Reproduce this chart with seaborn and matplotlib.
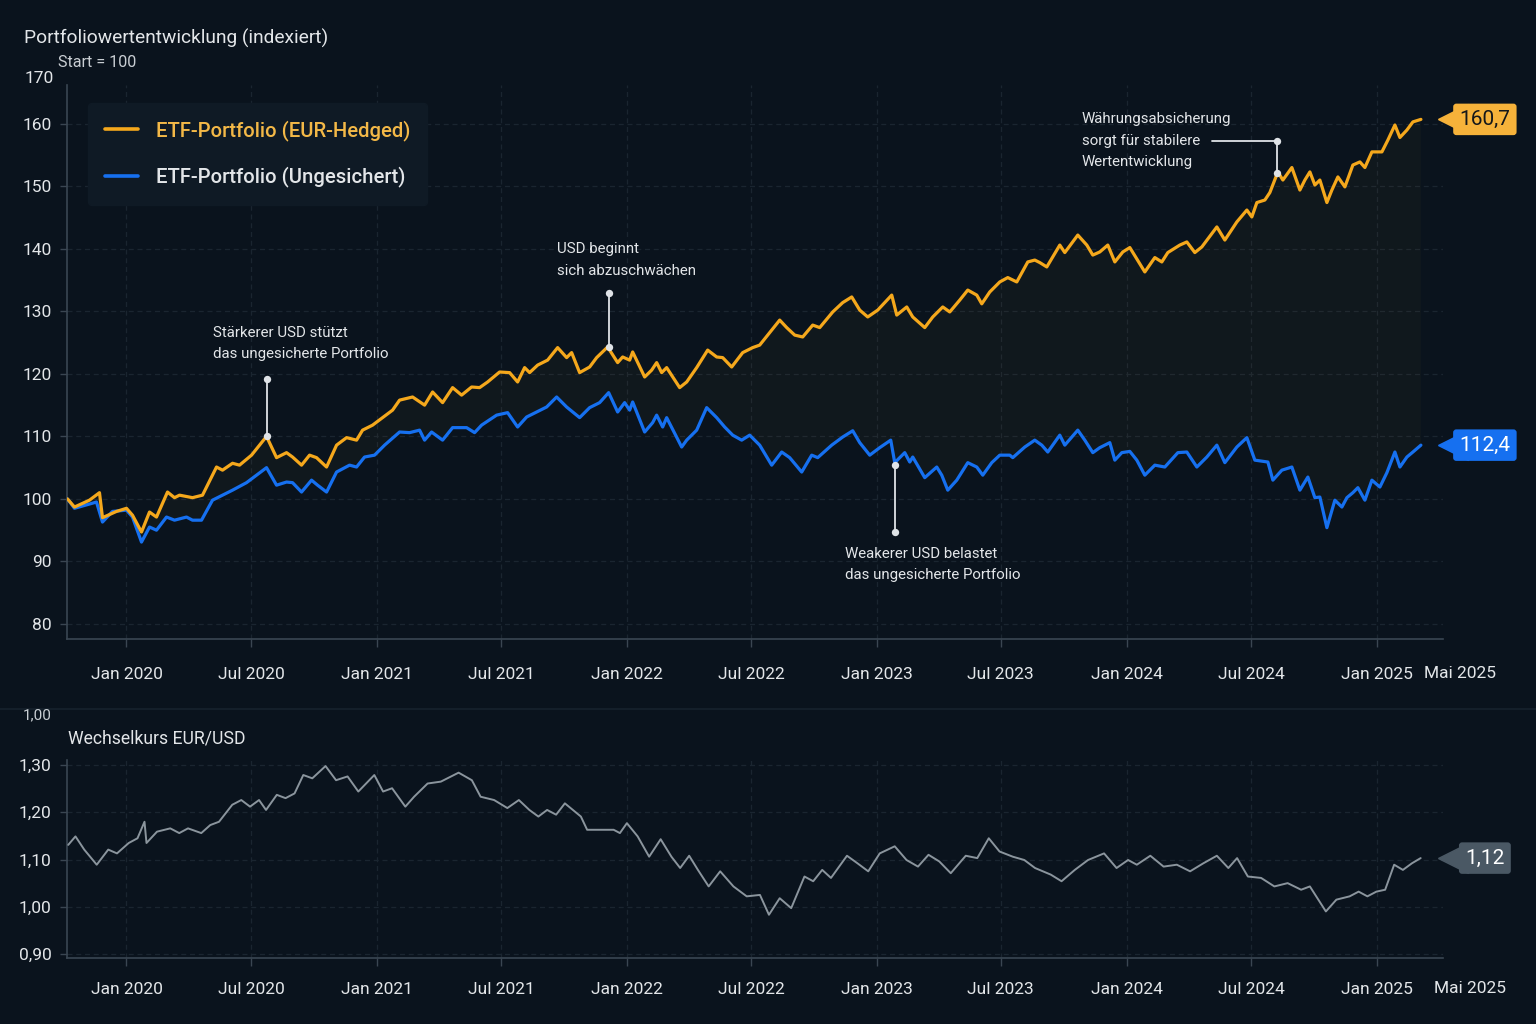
import numpy as np
import pandas as pd
import matplotlib
matplotlib.use("Agg")
import matplotlib.pyplot as plt
import matplotlib.dates as mdates
import matplotlib.transforms as mtransforms
from matplotlib.lines import Line2D
from matplotlib.ticker import FuncFormatter
import seaborn as sns

# --- data (time as decimal years) ---
series_labels = ["ETF-Portfolio (EUR-Hedged)", "ETF-Portfolio (Ungesichert)"]

hedged_years = [
    2019.764, 2019.792, 2019.852, 2019.892, 2019.904, 2019.960, 2020.000, 2020.024, 2020.060, 2020.092,
    2020.120, 2020.164, 2020.192, 2020.212, 2020.264, 2020.304, 2020.360, 2020.384, 2020.424, 2020.452,
    2020.500, 2020.560, 2020.600, 2020.640, 2020.664, 2020.700, 2020.732, 2020.760, 2020.800, 2020.840,
    2020.880, 2020.920, 2020.944, 2020.984, 2021.064, 2021.092, 2021.144, 2021.192, 2021.224, 2021.264,
    2021.304, 2021.340, 2021.380, 2021.412, 2021.444, 2021.492, 2021.532, 2021.564, 2021.592, 2021.612,
    2021.644, 2021.684, 2021.724, 2021.760, 2021.780, 2021.812, 2021.852, 2021.880, 2021.924, 2021.964,
    2021.984, 2022.012, 2022.024, 2022.072, 2022.100, 2022.120, 2022.140, 2022.160, 2022.212, 2022.240,
    2022.280, 2022.324, 2022.360, 2022.384, 2022.420, 2022.464, 2022.504, 2022.532, 2022.572, 2022.612,
    2022.640, 2022.672, 2022.704, 2022.744, 2022.772, 2022.824, 2022.864, 2022.900, 2022.932, 2022.964,
    2023.004, 2023.060, 2023.080, 2023.120, 2023.144, 2023.192, 2023.224, 2023.264, 2023.292, 2023.332,
    2023.364, 2023.400, 2023.420, 2023.452, 2023.492, 2023.524, 2023.560, 2023.604, 2023.632, 2023.652,
    2023.680, 2023.732, 2023.752, 2023.804, 2023.840, 2023.864, 2023.892, 2023.924, 2023.952, 2023.984,
    2024.012, 2024.072, 2024.112, 2024.140, 2024.164, 2024.212, 2024.240, 2024.272, 2024.300, 2024.360,
    2024.392, 2024.440, 2024.480, 2024.500, 2024.520, 2024.552, 2024.572, 2024.604, 2024.624, 2024.660,
    2024.692, 2024.712, 2024.732, 2024.752, 2024.772, 2024.800, 2024.820, 2024.844, 2024.872, 2024.904,
    2024.932, 2024.952, 2024.980, 2025.020, 2025.044, 2025.072, 2025.092, 2025.120, 2025.144, 2025.176,
]
hedged_vals = [
    100.0, 98.7, 99.8, 101.0, 97.0, 98.0, 98.5, 97.4, 94.7, 97.9,
    97.1, 101.1, 100.2, 100.6, 100.2, 100.6, 105.1, 104.6, 105.7, 105.4,
    107.0, 110.0, 106.6, 107.4, 106.7, 105.4, 107.0, 106.6, 105.1, 108.6,
    109.8, 109.4, 111.0, 111.8, 114.2, 115.8, 116.3, 115.0, 117.1, 115.4,
    117.8, 116.6, 117.9, 117.8, 118.7, 120.3, 120.2, 118.7, 121.0, 120.2,
    121.4, 122.2, 124.2, 122.6, 123.4, 120.2, 121.1, 122.6, 124.3, 121.8,
    122.7, 122.2, 123.5, 119.5, 120.6, 121.8, 120.2, 121.0, 117.8, 118.7,
    121.0, 123.8, 122.7, 122.6, 121.1, 123.4, 124.2, 124.6, 126.6, 128.6,
    127.4, 126.2, 125.9, 127.8, 127.4, 129.9, 131.4, 132.3, 130.2, 129.1,
    130.2, 132.6, 129.4, 130.7, 129.1, 127.4, 129.1, 130.7, 129.9, 131.8,
    133.4, 132.6, 131.2, 133.1, 134.7, 135.4, 134.7, 137.9, 138.2, 137.8,
    137.1, 140.6, 139.4, 142.2, 140.6, 139.0, 139.5, 140.6, 137.9, 139.5,
    140.2, 136.3, 138.6, 137.9, 139.4, 140.6, 141.1, 139.4, 140.3, 143.5,
    141.4, 144.3, 146.2, 145.1, 147.4, 147.8, 149.0, 152.3, 151.0, 153.0,
    149.4, 151.0, 152.3, 150.2, 151.0, 147.4, 149.4, 151.5, 149.9, 153.4,
    153.9, 153.0, 155.5, 155.5, 157.4, 159.8, 157.8, 159.0, 160.3, 160.7,
]

unhedged_years = [
    2019.764, 2019.792, 2019.880, 2019.904, 2019.944, 2020.000, 2020.024, 2020.060, 2020.092, 2020.120,
    2020.160, 2020.192, 2020.240, 2020.264, 2020.300, 2020.344, 2020.384, 2020.424, 2020.480, 2020.560,
    2020.600, 2020.640, 2020.664, 2020.700, 2020.740, 2020.764, 2020.800, 2020.840, 2020.892, 2020.920,
    2020.952, 2020.992, 2021.032, 2021.092, 2021.132, 2021.172, 2021.192, 2021.220, 2021.264, 2021.304,
    2021.360, 2021.392, 2021.420, 2021.480, 2021.524, 2021.564, 2021.600, 2021.640, 2021.680, 2021.720,
    2021.760, 2021.812, 2021.852, 2021.892, 2021.928, 2021.964, 2021.992, 2022.012, 2022.024, 2022.072,
    2022.104, 2022.120, 2022.144, 2022.160, 2022.220, 2022.240, 2022.280, 2022.320, 2022.360, 2022.392,
    2022.424, 2022.460, 2022.492, 2022.532, 2022.580, 2022.620, 2022.652, 2022.700, 2022.740, 2022.764,
    2022.820, 2022.864, 2022.904, 2022.932, 2022.972, 2023.012, 2023.056, 2023.072, 2023.112, 2023.132,
    2023.144, 2023.192, 2023.240, 2023.260, 2023.284, 2023.320, 2023.364, 2023.400, 2023.424, 2023.460,
    2023.492, 2023.532, 2023.544, 2023.592, 2023.632, 2023.660, 2023.684, 2023.732, 2023.752, 2023.804,
    2023.832, 2023.864, 2023.892, 2023.932, 2023.952, 2023.980, 2024.012, 2024.040, 2024.072, 2024.112,
    2024.152, 2024.204, 2024.240, 2024.280, 2024.320, 2024.360, 2024.392, 2024.440, 2024.480, 2024.512,
    2024.564, 2024.584, 2024.620, 2024.660, 2024.692, 2024.724, 2024.752, 2024.772, 2024.800, 2024.832,
    2024.860, 2024.880, 2024.904, 2024.924, 2024.952, 2024.980, 2025.012, 2025.040, 2025.072, 2025.092,
    2025.120, 2025.144, 2025.176,
]
unhedged_vals = [
    100.0, 98.5, 99.5, 96.3, 98.0, 98.2, 97.1, 93.1, 95.5, 95.0,
    97.1, 96.6, 97.1, 96.6, 96.6, 99.8, 100.6, 101.4, 102.6, 105.0,
    102.2, 102.7, 102.6, 101.1, 103.0, 102.2, 101.1, 104.3, 105.4, 105.1,
    106.7, 107.0, 108.6, 110.7, 110.6, 111.0, 109.4, 110.7, 109.4, 111.4,
    111.4, 110.6, 111.8, 113.4, 113.8, 111.5, 113.1, 113.9, 114.7, 116.3,
    114.7, 113.0, 114.6, 115.4, 117.0, 113.9, 115.4, 114.2, 115.5, 110.7,
    112.2, 113.4, 111.5, 113.0, 108.3, 109.4, 111.0, 114.6, 113.0, 111.5,
    110.2, 109.4, 110.2, 108.6, 105.4, 107.5, 106.6, 104.3, 107.0, 106.6,
    108.6, 109.9, 110.9, 109.0, 107.0, 108.2, 109.4, 105.8, 107.4, 105.9,
    106.7, 103.4, 105.1, 103.8, 101.4, 103.0, 105.8, 105.1, 103.8, 105.8,
    107.0, 107.0, 106.6, 108.3, 109.4, 108.6, 107.5, 110.2, 108.6, 111.0,
    109.4, 107.4, 108.2, 109.0, 106.2, 107.4, 107.6, 106.2, 103.8, 105.4,
    105.1, 107.4, 107.5, 105.1, 106.7, 108.6, 105.8, 108.3, 109.8, 106.2,
    105.9, 103.0, 104.6, 105.1, 101.4, 103.5, 100.2, 100.3, 95.4, 99.8,
    98.7, 100.2, 101.0, 101.8, 99.8, 103.0, 101.9, 104.2, 107.5, 105.1,
    106.7, 107.5, 108.6,
]

fx_years = [
    2019.767, 2019.796, 2019.831, 2019.881, 2019.927, 2019.962, 2020.009, 2020.044, 2020.072, 2020.080,
    2020.122, 2020.175, 2020.211, 2020.246, 2020.299, 2020.335, 2020.370, 2020.423, 2020.459, 2020.494,
    2020.530, 2020.558, 2020.601, 2020.636, 2020.672, 2020.707, 2020.743, 2020.796, 2020.838, 2020.884,
    2020.927, 2020.991, 2021.026, 2021.062, 2021.115, 2021.150, 2021.204, 2021.257, 2021.328, 2021.381,
    2021.416, 2021.470, 2021.523, 2021.569, 2021.611, 2021.647, 2021.682, 2021.718, 2021.753, 2021.817,
    2021.842, 2021.895, 2021.948, 2021.973, 2022.001, 2022.044, 2022.090, 2022.136, 2022.179, 2022.214,
    2022.250, 2022.285, 2022.328, 2022.374, 2022.427, 2022.480, 2022.533, 2022.569, 2022.612, 2022.658,
    2022.711, 2022.746, 2022.782, 2022.817, 2022.881, 2022.923, 2022.966, 2023.012, 2023.072, 2023.119,
    2023.165, 2023.207, 2023.250, 2023.296, 2023.356, 2023.402, 2023.448, 2023.491, 2023.544, 2023.590,
    2023.633, 2023.696, 2023.739, 2023.792, 2023.845, 2023.909, 2023.959, 2024.005, 2024.040, 2024.094,
    2024.147, 2024.200, 2024.253, 2024.306, 2024.360, 2024.406, 2024.441, 2024.484, 2024.537, 2024.590,
    2024.643, 2024.697, 2024.732, 2024.796, 2024.838, 2024.891, 2024.927, 2024.962, 2024.998, 2025.033,
    2025.069, 2025.104, 2025.140, 2025.175,
]
fx_vals = [
    1.131, 1.149, 1.121, 1.089, 1.121, 1.113, 1.135, 1.145, 1.180, 1.135,
    1.159, 1.166, 1.156, 1.166, 1.156, 1.173, 1.180, 1.216, 1.226, 1.212,
    1.226, 1.205, 1.237, 1.230, 1.240, 1.279, 1.272, 1.298, 1.268, 1.276,
    1.244, 1.279, 1.244, 1.251, 1.212, 1.233, 1.261, 1.265, 1.284, 1.268,
    1.233, 1.226, 1.209, 1.226, 1.205, 1.191, 1.205, 1.195, 1.219, 1.191,
    1.163, 1.163, 1.163, 1.156, 1.177, 1.149, 1.106, 1.143, 1.106, 1.082,
    1.108, 1.078, 1.043, 1.075, 1.043, 1.022, 1.025, 0.983, 1.018, 0.997,
    1.064, 1.054, 1.078, 1.061, 1.108, 1.092, 1.075, 1.113, 1.128, 1.099,
    1.085, 1.110, 1.096, 1.071, 1.108, 1.103, 1.145, 1.117, 1.106, 1.099,
    1.082, 1.068, 1.054, 1.078, 1.099, 1.113, 1.082, 1.099, 1.089, 1.108,
    1.085, 1.089, 1.075, 1.092, 1.108, 1.082, 1.103, 1.064, 1.061, 1.043,
    1.050, 1.036, 1.043, 0.990, 1.015, 1.022, 1.032, 1.022, 1.032, 1.036,
    1.089, 1.078, 1.092, 1.103,
]

tag_labels = ["160,7", "112,4", "1,12"]


def to_dates(years):
    years = np.asarray(years, dtype=float)
    return pd.Timestamp("2020-01-01") + pd.to_timedelta((years - 2020) * 365.25, unit="D")


BG = "#0a131d"
GRID = "#1a2530"
SPINE = "#3a4652"
TXT = "#e3e6e9"
ORANGE = "#f5a81c"
BLUE = "#1670f0"
GRAY = "#8b959d"

sns.set_theme(style="dark", rc={
    "figure.facecolor": BG, "axes.facecolor": BG, "axes.edgecolor": SPINE,
    "text.color": TXT, "xtick.color": TXT, "ytick.color": TXT,
    "axes.labelcolor": TXT,
})
plt.rcParams["font.family"] = ["Roboto", "DejaVu Sans"]

fig = plt.figure(figsize=(15.36, 10.24), dpi=100)
ax = fig.add_axes([0.0436, 0.376, 0.8958, 0.541])
ax2 = fig.add_axes([0.0436, 0.0645, 0.8958, 0.1934])

portfolio = pd.concat([
    pd.DataFrame({"Datum": to_dates(hedged_years), "Wert": hedged_vals, "Serie": series_labels[0]}),
    pd.DataFrame({"Datum": to_dates(unhedged_years), "Wert": unhedged_vals, "Serie": series_labels[1]}),
], ignore_index=True)
fx = pd.DataFrame({"Datum": to_dates(fx_years), "Kurs": fx_vals})

# faint band between the two portfolio lines
band_x = np.concatenate([mdates.date2num(to_dates(hedged_years)),
                         mdates.date2num(to_dates(unhedged_years))[::-1]])
band_y = np.concatenate([hedged_vals, unhedged_vals[::-1]])
ax.fill(band_x, band_y, color="#c9a227", alpha=0.035, lw=0, zorder=1)

sns.lineplot(data=portfolio, x="Datum", y="Wert", hue="Serie", hue_order=series_labels[::-1],
             palette=[BLUE, ORANGE], lw=2.3, ax=ax, legend=False, zorder=3)
sns.lineplot(data=fx, x="Datum", y="Kurs", color=GRAY, lw=1.4, ax=ax2, zorder=3)

x0, x1 = to_dates([2019.762, 2025.264])
for a in (ax, ax2):
    a.set_xlim(x0, x1)
    a.set_xlabel("")
    a.set_ylabel("")
    a.xaxis.set_major_locator(mdates.MonthLocator(bymonth=[1, 7]))
    a.xaxis.set_major_formatter(FuncFormatter(
        lambda v, pos: ("Jan " if mdates.num2date(v).month == 1 else "Jul ") + str(mdates.num2date(v).year)))
    a.grid(True, color=GRID, lw=0.9, ls=(0, (4, 3)))
    for s in ("top", "right"):
        a.spines[s].set_visible(False)
    for s in ("left", "bottom"):
        a.spines[s].set_color(SPINE)
        a.spines[s].set_linewidth(1.2)
    a.tick_params(axis="both", colors=SPINE, labelcolor=TXT, labelsize=12.5, length=6, width=1, left=True, bottom=True)

ax.set_ylim(77.6, 166.2)
ax.set_yticks([80, 90, 100, 110, 120, 130, 140, 150, 160])
ax.tick_params(axis="x", pad=14)
ax.tick_params(axis="y", pad=6, length=5)
ax.text(-0.0095, 1.0126, "170", transform=ax.transAxes, ha="right", va="center", fontsize=12.5, color=TXT)

ax2.set_ylim(0.8915, 1.311)
ax2.set_yticks([0.9, 1.0, 1.1, 1.2, 1.3])
ax2.yaxis.set_major_formatter(FuncFormatter(lambda v, pos: f"{v:.2f}".replace(".", ",")))
ax2.tick_params(axis="x", pad=11)
ax2.tick_params(axis="y", pad=6, length=5)

# "Mai 2025" sits just past the right end of the axes
may = to_dates([2025.332])[0]
ax.annotate("Mai 2025", xy=(may, 0), xycoords=("data", "axes fraction"), xytext=(0, -35),
            textcoords="offset pixels", ha="center", va="center", fontsize=12.5, color=TXT, annotation_clip=False)
ax2.annotate("Mai 2025", xy=(may, 0), xycoords=("data", "axes fraction"), xytext=(10, -31),
             textcoords="offset pixels", ha="center", va="center", fontsize=12.5, color=TXT, annotation_clip=False)

# legend
handles = [Line2D([], [], color=ORANGE, lw=2.6), Line2D([], [], color=BLUE, lw=2.6)]
leg = ax.legend(handles, series_labels, loc="upper left", bbox_to_anchor=(0.015, 0.9675),
                frameon=True, facecolor="#0f1a25", edgecolor="#0f1a25", framealpha=1,
                prop={"size": 14.6, "weight": "medium"}, handlelength=1.65, handletextpad=0.85,
                labelspacing=1.25, borderpad=0.85, borderaxespad=0, fancybox=True)
for t, c in zip(leg.get_texts(), ["#f3b847", TXT]):
    t.set_color(c)

# callouts
NOTE = "#dfe3e7"


def callout(axis, xs, ys, dots):
    d = to_dates(xs)
    axis.plot(d, ys, color=NOTE, lw=1.3, zorder=5)
    axis.scatter([d[i] for i in dots], [ys[i] for i in dots], s=28, color=NOTE, zorder=6, lw=0)


callout(ax, [2020.56, 2020.56], [119.2, 110.0], [0, 1])
ax.text(to_dates([2020.344])[0], 124.9, "Stärkerer USD stützt\ndas ungesicherte Portfolio",
        ha="left", va="center", fontsize=10.8, color=TXT, linespacing=1.65)
callout(ax, [2021.928, 2021.928], [133.0, 124.3], [0, 1])
ax.text(to_dates([2021.72])[0], 138.2, "USD beginnt\nsich abzuschwächen",
        ha="left", va="center", fontsize=10.8, color=TXT, linespacing=1.65)
callout(ax, [2023.072, 2023.072], [105.4, 94.7], [0, 1])
ax.text(to_dates([2022.872])[0], 89.5, "Weakerer USD belastet\ndas ungesicherte Portfolio",
        ha="left", va="center", fontsize=10.8, color=TXT, linespacing=1.65)
callout(ax, [2024.34, 2024.6, 2024.6], [157.3, 157.3, 152.2], [1, 2])
ax.text(to_dates([2023.82])[0], 157.3, "Währungsabsicherung\nsorgt für stabilere\nWertentwicklung",
        ha="left", va="center", fontsize=10.8, color=TXT, linespacing=1.65)


# value tags at the right edge
def end_tag(axis, y, text, face, color):
    tr = mtransforms.blended_transform_factory(axis.transAxes, axis.transData)
    axis.plot([1.0075], [y], marker="<", ms=22, color=face, transform=tr, clip_on=False, zorder=7)
    axis.text(1.0305, y, text, transform=tr, ha="center", va="center", fontsize=15, color=color,
              bbox=dict(boxstyle="round,pad=0.3,rounding_size=0.15", fc=face, ec="none"),
              clip_on=False, zorder=8)


end_tag(ax, hedged_vals[-1], tag_labels[0], "#f6b23a", "#14171a")
end_tag(ax, unhedged_vals[-1], tag_labels[1], BLUE, "#ffffff")
end_tag(ax2, fx_vals[-1], tag_labels[2], "#4a5864", "#ffffff")

# titles
fig.text(0.0156, 0.9625, "Portfoliowertentwicklung (indexiert)", ha="left", va="center", fontsize=13.8, color=TXT)
fig.text(0.0378, 0.9385, "Start = 100", ha="left", va="center", fontsize=11.6, color="#c9ced3")
fig.text(0.0443, 0.279, "Wechselkurs EUR/USD", ha="left", va="center", fontsize=12.7, color=TXT)
fig.text(0.0339, 0.3018, "1,00", ha="right", va="center", fontsize=11, color="#c9ced3")
fig.add_artist(Line2D([0, 1], [0.3076, 0.3076], color="#17222d", lw=1.2, transform=fig.transFigure))

fig.savefig("out.png", dpi=100, facecolor=BG)
